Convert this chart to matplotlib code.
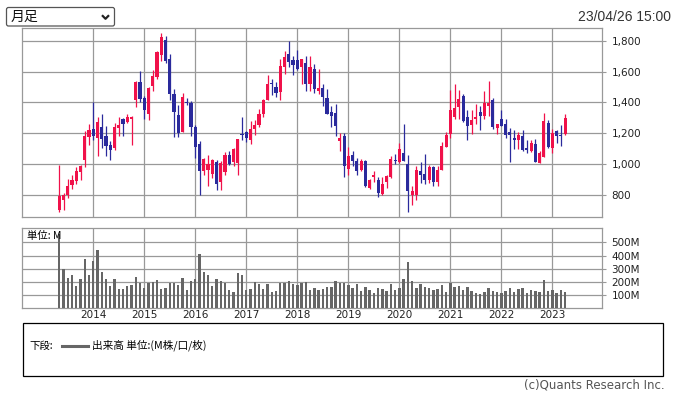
import numpy as np
import pandas as pd
import matplotlib
matplotlib.use('Agg')
import matplotlib.pyplot as plt
from matplotlib.patches import FancyBboxPatch, Rectangle

# monthly candles, May 2013 .. Apr 2023
months = pd.period_range('2013-05', '2023-04', freq='M')

opens = [705, 770, 798, 867, 888, 947, 1025, 1174,
         1230, 1169, 1243, 1184, 1126, 1102, 1232, 1292, 1275, 1295, 1413, 1534,
         1431, 1325, 1504, 1562, 1705, 1806, 1683, 1457, 1320, 1206, 1405, 1396,
         1238, 1133, 953, 964, 936, 1012, 882, 947, 1061, 1012, 1007, 1197,
         1210, 1158, 1230, 1256, 1325, 1418, 1528, 1502, 1465, 1627, 1716, 1677,
         1673, 1627, 1657, 1517, 1619, 1472, 1495, 1431, 1336, 1333, 1150, 1180,
         970, 1061, 1022, 960, 1022, 845, 914, 899, 809, 882, 914, 1029,
         1012, 1074, 1001, 802, 802, 958, 938, 895, 979, 884, 960, 1111,
         1195, 1303, 1372, 1444, 1305, 1251, 1295, 1336, 1314, 1374, 1418, 1232,
         1291, 1259, 1207, 1170, 1155, 1181, 1105, 1086, 1129, 1006, 1047, 1265,
         1105, 1213, 1187, 1194]
highs = [996, 813, 906, 932, 979, 996, 1217, 1262,
         1405, 1303, 1327, 1245, 1148, 1269, 1303, 1299, 1327, 1314, 1540, 1606,
         1439, 1498, 1612, 1735, 1850, 1828, 1716, 1487, 1385, 1463, 1430, 1411,
         1256, 1148, 1040, 1061, 1035, 1025, 1018, 1076, 1083, 1104, 1165, 1305,
         1217, 1282, 1288, 1357, 1424, 1580, 1554, 1530, 1683, 1733, 1798, 1698,
         1742, 1681, 1698, 1698, 1647, 1619, 1519, 1487, 1374, 1392, 1202, 1202,
         1111, 1083, 1040, 1033, 1029, 904, 958, 914, 914, 927, 1050, 1066,
         1137, 1262, 1061, 856, 986, 1014, 1068, 996, 986, 986, 1143, 1208,
         1478, 1521, 1478, 1457, 1353, 1353, 1392, 1379, 1472, 1541, 1428, 1262,
         1349, 1291, 1233, 1220, 1207, 1220, 1155, 1155, 1162, 1082, 1330, 1285,
         1226, 1222, 1252, 1324]
lows = [688, 701, 780, 839, 873, 899, 979, 1126,
        1158, 1055, 1104, 1050, 1025, 1094, 1180, 1180, 1266, 1126, 1370, 1400,
        1292, 1288, 1472, 1552, 1670, 1655, 1418, 1174, 1174, 1206, 1385, 1180,
        1038, 798, 927, 856, 910, 830, 834, 927, 996, 990, 927, 1158,
        1143, 1133, 1187, 1241, 1303, 1418, 1450, 1433, 1418, 1584, 1627, 1580,
        1608, 1517, 1472, 1472, 1459, 1457, 1379, 1323, 1238, 1184, 1083, 914,
        927, 986, 927, 953, 852, 839, 884, 787, 802, 845, 910, 1003,
        1007, 1018, 688, 733, 765, 878, 873, 878, 856, 856, 960, 1111,
        1169, 1295, 1295, 1273, 1158, 1195, 1262, 1219, 1295, 1310, 1230, 1197,
        1246, 1168, 1012, 1099, 1097, 1084, 1073, 1079, 1015, 1006, 1047, 1103,
        1073, 1138, 1116, 1187]
closes = [791, 798, 856, 895, 953, 986, 1180, 1223,
          1180, 1275, 1165, 1115, 1089, 1238, 1256, 1262, 1303, 1305, 1534, 1422,
          1349, 1493, 1573, 1724, 1826, 1670, 1452, 1336, 1202, 1435, 1396, 1238,
          1109, 953, 1033, 999, 1029, 873, 1009, 1061, 1001, 1100, 1165, 1187,
          1169, 1230, 1256, 1327, 1418, 1521, 1519, 1459, 1634, 1696, 1660, 1644,
          1616, 1679, 1517, 1632, 1487, 1495, 1433, 1323, 1314, 1245, 1167, 986,
          1050, 1018, 953, 1022, 860, 899, 927, 813, 873, 921, 1035, 1022,
          1100, 1022, 824, 828, 964, 932, 895, 979, 884, 964, 1115, 1191,
          1353, 1366, 1424, 1282, 1245, 1288, 1308, 1310, 1394, 1394, 1238, 1262,
          1248, 1187, 1187, 1157, 1187, 1090, 1092, 1136, 1015, 1069, 1278, 1110,
          1200, 1181, 1183, 1298]
# volume in millions
volumes = [561, 297, 235, 251, 173, 227, 377, 251,
           359, 444, 274, 227, 173, 227, 150, 150, 173, 181, 243, 196,
           158, 196, 204, 220, 150, 158, 196, 196, 181, 235, 142, 212,
           227, 413, 274, 251, 173, 227, 212, 196, 142, 127, 266, 251,
           142, 150, 204, 189, 150, 189, 127, 134, 196, 196, 212, 189,
           181, 196, 204, 142, 158, 142, 150, 165, 165, 210, 195, 195,
           180, 155, 185, 135, 165, 140, 120, 160, 145, 135, 185, 140,
           155, 225, 355, 210, 160, 185, 165, 155, 140, 150, 180, 125,
           195, 165, 175, 140, 165, 130, 115, 110, 125, 160, 135, 125,
           115, 130, 155, 125, 150, 155, 115, 140, 135, 125, 215, 130,
           140, 120, 140, 125]

price_ticks = [800, 1000, 1200, 1400, 1600, 1800]
vol_ticks = [100, 200, 300, 400, 500]
year_labels = [str(y) for y in range(2014, 2024)]

RED = '#f0114a'
BLUE = '#2a2a9c'
GRID = '#999999'
CJK = ['Noto Sans CJK JP', 'DejaVu Sans']

W, H = 674, 396
fig = plt.figure(figsize=(W / 100, H / 100), dpi=100)


def px_axes(left, top, right, bottom):
    return fig.add_axes([left / W, 1 - bottom / H, (right - left) / W, (bottom - top) / H])


x = np.array((months.year - 2014) * 12 + months.month - 1, dtype=float)
o = np.array(opens, float)
c = np.array(closes, float)
colors = [RED if cc >= oo else BLUE for oo, cc in zip(o, c)]

ax = px_axes(22.3, 27.7, 601.7, 217.3)
ax2 = px_axes(22.3, 228.3, 601.7, 307.5)

for a in (ax, ax2):
    a.set_xlim(-16.7, 119.6)
    a.set_xticks(range(0, 120, 12))
    a.grid(True, color=GRID, lw=0.9)
    a.set_axisbelow(True)
    for s in a.spines.values():
        s.set_color(GRID)
        s.set_linewidth(0.9)
    a.yaxis.tick_right()
    a.tick_params(axis='y', direction='out', length=3, width=0.8, color=GRID,
                  labelcolor='#222222', labelsize=7.5, pad=4)

# candles
ax.vlines(x, lows, highs, colors=colors, lw=0.9, zorder=2)
ax.bar(x, np.maximum(np.abs(c - o), 6), bottom=np.minimum(o, c), width=0.75,
       color=colors, linewidth=0, zorder=3)
ax.set_ylim(655, 1884)
ax.set_yticks(price_ticks)
ax.set_yticklabels([f'{v:,}' for v in price_ticks])
ax.tick_params(axis='x', length=0, labelbottom=False)

# volume
ax2.bar(x, volumes, width=0.55, color='#666666', linewidth=0, zorder=3)
ax2.set_ylim(9, 607)
ax2.set_yticks(vol_ticks)
ax2.set_yticklabels([f'{v}M' for v in vol_ticks])
ax2.set_xticklabels(year_labels)
ax2.tick_params(axis='x', length=0, labelsize=7.5, labelcolor='#222222', pad=2)
ax2.text(0.008, 0.9, '単位: M', transform=ax2.transAxes, fontsize=7.5,
         family=CJK, va='center', ha='left', zorder=5)

# overlay in pixel coordinates for the page furniture
ov = fig.add_axes([0, 0, 1, 1], zorder=-1)
ov.set_xlim(0, W)
ov.set_ylim(H, 0)
ov.axis('off')

ov.add_patch(FancyBboxPatch((6.5, 7.5), 108, 18.5, boxstyle='round,pad=0,rounding_size=2',
                            ec='#555555', fc='white', lw=0.9))
ov.text(10.5, 17, '月足', fontsize=10, family=CJK, va='center', ha='left', color='#111111')
ov.plot([102, 105.5, 109], [15.2, 18.8, 15.2], color='#222222', lw=1.6, solid_capstyle='butt')

ov.text(671, 17, '23/04/26 15:00', fontsize=10, family='Liberation Sans',
        ha='right', va='center', color='#333333')

ov.add_patch(Rectangle((22.5, 322.5), 640, 53, ec='black', fc='none', lw=0.9))
ov.text(29, 345.5, '下段:', fontsize=7.5, family=CJK, va='center', ha='left')
ov.plot([62, 88], [345.5, 345.5], color='#666666', lw=2.2)
ov.text(92, 345.5, '出来高 単位:(M株/口/枚)', fontsize=7.7, family=CJK, va='center', ha='left')

ov.text(665, 385, '(c)Quants Research Inc.', fontsize=8.5, ha='right', va='center',
        color='#555555')

fig.savefig('out.png', dpi=100)
